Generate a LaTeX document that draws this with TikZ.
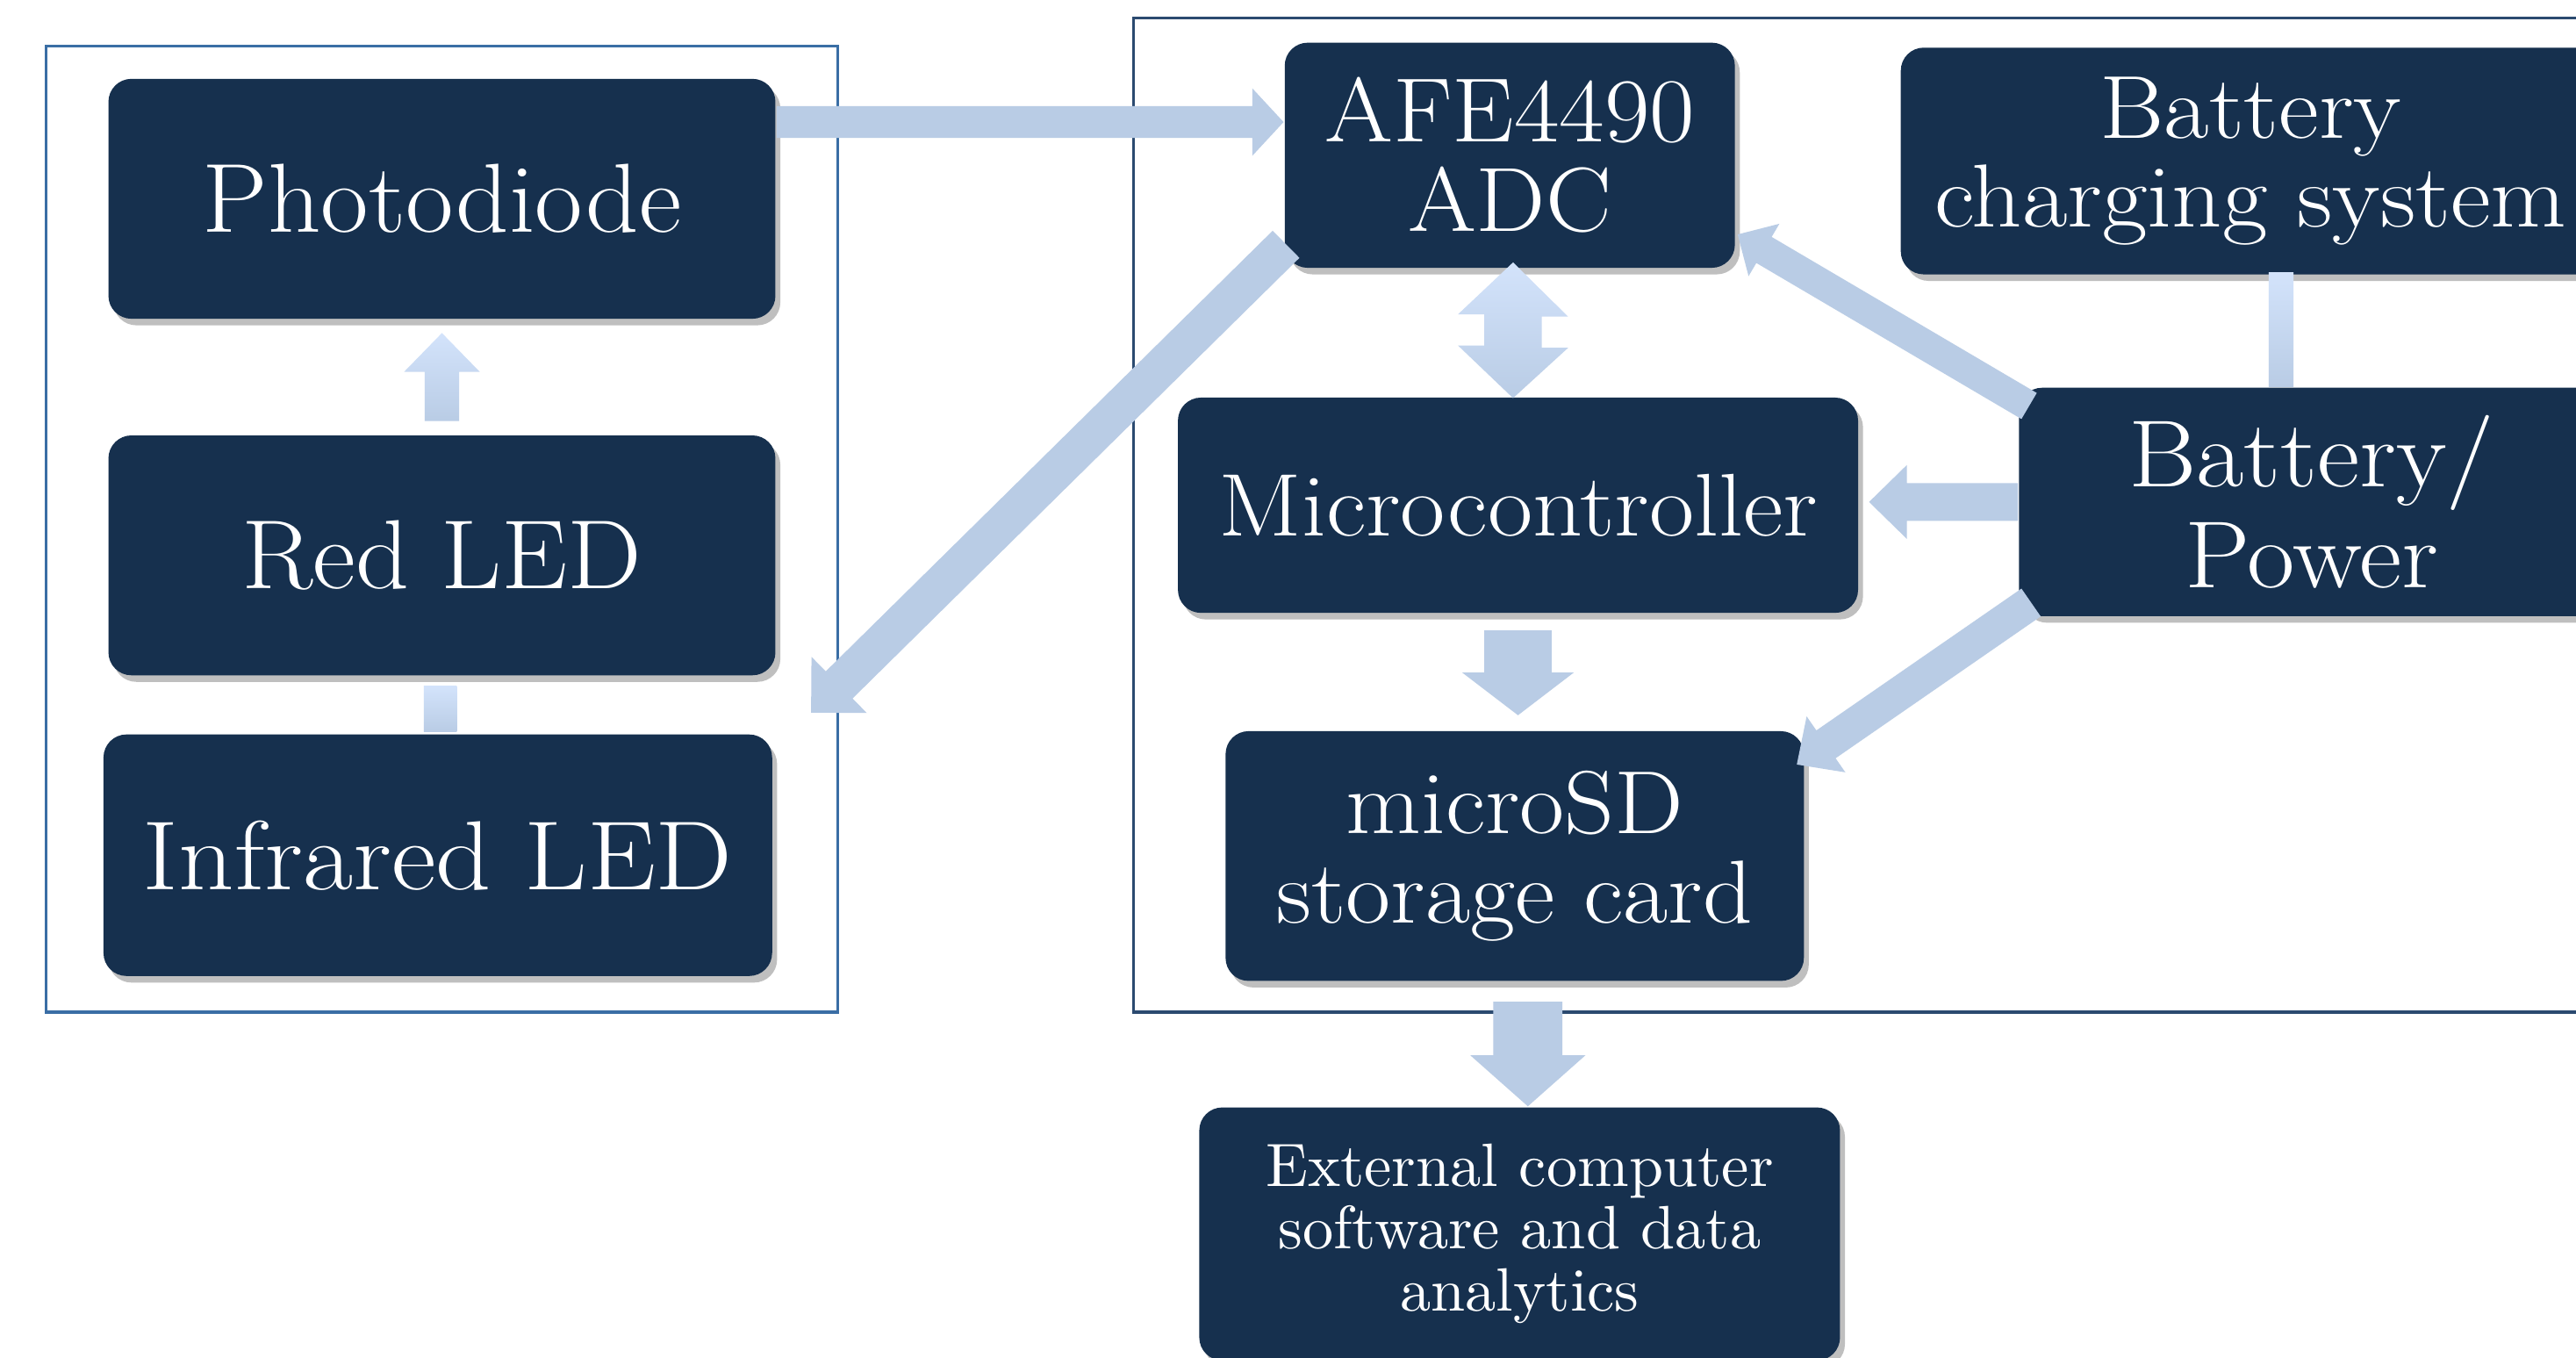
\documentclass[tikz,border=0pt]{standalone}
\usepackage{fontspec}
\usepackage{graphicx}
\usetikzlibrary{calc,shadows}
\definecolor{boxblue}{HTML}{16304E}
\definecolor{arrowblue}{HTML}{B9CCE5}
\definecolor{arrowlight}{HTML}{D3E3FB}
\definecolor{lframe}{HTML}{3A6EA5}
\definecolor{rframe}{HTML}{2B4A70}
\newcommand\fnt[2]{\fontsize{#1}{#2}\selectfont}
% horizontally widened, centred lines separated by \cr
\newcommand\wtxt[2]{\scalebox{#1}[1]{\vbox{\halign{\hfil##\hfil\cr#2\crcr}}}}
\tikzset{
  blk/.style={rectangle, rounded corners=1.4mm, fill=boxblue, text=white, inner sep=0pt, align=center,
    drop shadow={shadow xshift=0.3mm, shadow yshift=-0.4mm, fill=black, opacity=0.25}},
  arr/.style={fill=arrowblue},
  arrg/.style={top color=arrowlight, bottom color=arrowblue},
  frameL/.style={draw=lframe, line width=0.5pt},
  frameR/.style={draw=rframe, line width=0.5pt},
}
% block arrow: [style]{start}{tip}{shaft half width}{head half width}{head length}
\newcommand\barrow[6][arr]{%
  \coordinate (hb) at ($(#3)!#6!(#2)$);
  \path[#1] ($(#2)!#4!90:(#3)$) -- ($(hb)!#4!90:(#3)$) -- ($(hb)!#5!90:(#3)$) -- (#3)
    -- ($(hb)!#5!-90:(#3)$) -- ($(hb)!#4!-90:(#3)$) -- ($(#2)!#4!-90:(#3)$) -- cycle;
}
\begin{document}
\begin{tikzpicture}[x=0.1mm,y=-0.1mm]
\useasboundingbox (0,0) rectangle (1568,826);
\clip (0,0) rectangle (1568,826);
\fill[white] (0,0) rectangle (1568,826);

% group frames
\draw[frameL] (28,28) rectangle (510,616);
\draw[frameR] (690,11) rectangle (1600,616);

% boxes
\node[blk, minimum width=40.6mm, minimum height=14.6mm, font=\fnt{17pt}{17pt}] (pd) at (269,121) {\wtxt{1.06}{Photodiode}};
\node[blk, minimum width=40.6mm, minimum height=14.6mm, font=\fnt{17pt}{17pt}] (red) at (269,338) {\wtxt{1.07}{Red LED}};
\node[blk, minimum width=40.7mm, minimum height=14.7mm, font=\fnt{17pt}{17pt}] (ir) at (266.5,520.5) {\wtxt{1.11}{Infrared LED}};
\node[blk, minimum width=27.4mm, minimum height=13.7mm, font=\fnt{15.8pt}{15.5pt}] (afe) at (919,94.5) {\wtxt{1.08}{AFE4490\cr ADC}};
\node[blk, minimum width=42.6mm, minimum height=13.8mm, font=\fnt{15.5pt}{15.3pt}] (chg) at (1370,98) {\wtxt{1.1}{Battery\cr charging system}};
\node[blk, minimum width=41.4mm, minimum height=13.1mm, font=\fnt{15.4pt}{15.4pt}] (mcu) at (924,307.5) {\wtxt{1.1}{Microcontroller}};
\node[blk, minimum width=35.6mm, minimum height=13.9mm, font=\fnt{16.5pt}{17.4pt}] (bat) at (1407,305.5) {\wtxt{1.09}{Battery/\cr Power}};
\node[blk, minimum width=35.2mm, minimum height=15.2mm, font=\fnt{15.5pt}{15.6pt}] (sd) at (922,521) {\wtxt{1.09}{microSD\cr storage card}};
\node[blk, minimum width=39mm, minimum height=15.4mm, font=\fnt{10.6pt}{10.8pt}] (ext) at (925,751) {\wtxt{1.01}{External computer\cr software and data\cr analytics}};

% plain connectors
\path[arrg] ($(red.south)+(-11,6)$) rectangle ($(ir.north)+(11.5,-1)$);
\path[arrg] ($(chg.south)+(11,-2)$) rectangle ($(bat.north)+(-11,0)$);

% Photodiode -> AFE
\coordinate (s1) at ($(pd.north east)+(0,27)$);
\coordinate (e1) at (afe.west |- s1);
\barrow{s1}{e1}{0.97mm}{2.05mm}{1.9mm}

% AFE -> LED side
\coordinate (s2) at ($(afe.south west)+(1.5,-15)$);
\coordinate (e2) at ($(red.south east)+(21,22)$);
\barrow{s2}{e2}{1.16mm}{2.4mm}{2.4mm}

% AFE <-> Microcontroller
\coordinate (t1) at ($(afe.south)+(2,-4)$);
\coordinate (t2) at ($(mcu.north)+(-3,1)$);
\path[arrg] (t1) -- ++(33.5,33) -- ++(-16,0) -- ++(0,19) -- ++(16,0) -- (t2)
  -- ++(-33.5,-32) -- ++(16,0) -- ++(0,-19) -- ++(-16,0) -- cycle;

% Battery -> AFE
\coordinate (s4) at ($(bat.north west)+(6.8,11.8)$);
\coordinate (e4) at ($(afe.south east)+(1,-21)$);
\barrow{s4}{e4}{0.92mm}{1.85mm}{1.86mm}

% Battery -> Microcontroller
\coordinate (e5) at ($(mcu.east)+(6,-2)$);
\coordinate (s5) at (bat.west |- e5);
\barrow{s5}{e5}{1.15mm}{2.25mm}{2.3mm}

% Microcontroller -> microSD
\coordinate (s6) at ($(mcu.south)+(0,10)$);
\coordinate (e6) at ($(s6 |- sd.north)+(0,-9)$);
\barrow{s6}{e6}{2.05mm}{3.4mm}{2.6mm}

% Battery -> microSD
\coordinate (s7) at ($(bat.south west)+(8,-9)$);
\coordinate (e7) at ($(sd.north east)+(-5,21)$);
\barrow{s7}{e7}{1.03mm}{2.07mm}{2.16mm}

% microSD -> External
\coordinate (s8) at ($(sd.south)+(8,12)$);
\coordinate (e8) at (s8 |- ext.north);
\barrow{s8}{e8}{2.1mm}{3.5mm}{3.1mm}

% Red LED -> Photodiode
\coordinate (s9) at ($(red.north)+(0,-8)$);
\coordinate (e9) at ($(s9 |- pd.south)+(0,8)$);
\barrow[arrg]{s9}{e9}{1.05mm}{2.3mm}{2.36mm}
\end{tikzpicture}
\end{document}
